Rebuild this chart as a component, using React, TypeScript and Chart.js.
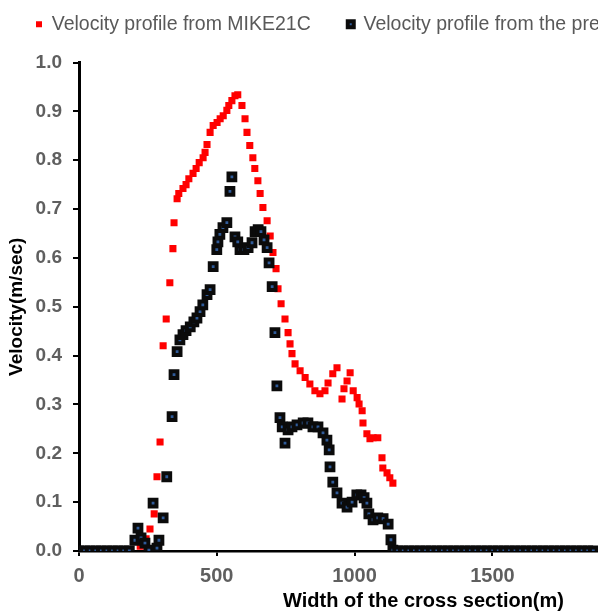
import React, { useEffect, useRef } from "react";
import { Chart, registerables } from "chart.js";

Chart.register(...registerables);

// ---- Data ----
const SERIES_NAMES = ["Velocity profile from MIKE21C", "Velocity profile from the present study"];

const MIKE_X = [219, 240, 254, 269, 279, 290, 301, 312, 325, 336, 340, 351, 357, 372, 383, 393, 408, 419, 430, 444,
  451, 458, 469, 480, 494, 505, 516, 529, 536, 547, 558, 568, 583, 594, 601, 611, 622, 629, 640, 648,
  658, 673, 684, 694, 705, 712, 723, 737, 748, 755, 762, 773, 791, 809, 826, 844, 862, 880, 891, 908,
  923, 941, 948, 959, 970, 981, 995, 1002, 1013, 1016, 1030, 1041, 1052, 1069, 1084, 1087, 1102, 1112, 1123];
const MIKE_Y = [0.010, 0.025, 0.045, 0.076, 0.152, 0.223, 0.420, 0.475, 0.549, 0.619, 0.672, 0.721, 0.732, 0.742, 0.750, 0.762, 0.773, 0.783, 0.795, 0.805,
  0.816, 0.832, 0.857, 0.871, 0.877, 0.885, 0.891, 0.902, 0.912, 0.922, 0.932, 0.934, 0.912, 0.885, 0.857, 0.830, 0.805, 0.783, 0.758, 0.732,
  0.703, 0.676, 0.645, 0.611, 0.578, 0.537, 0.506, 0.475, 0.447, 0.424, 0.404, 0.383, 0.369, 0.355, 0.342, 0.328, 0.322, 0.328, 0.344, 0.363,
  0.375, 0.311, 0.332, 0.348, 0.365, 0.328, 0.314, 0.301, 0.287, 0.262, 0.240, 0.230, 0.232, 0.232, 0.191, 0.170, 0.160, 0.150, 0.139];

const STUDY_X = [0, 20, 40, 60, 80, 100, 120, 140, 160, 180,
  200, 211, 222, 236, 250, 265, 279, 286, 301, 314, 333, 340, 351, 361, 372, 383, 398, 411, 422, 433, 443, 458, 469,
  480, 493, 497, 504, 515, 529, 540, 547, 558, 568, 576, 590, 605, 619, 630, 641, 651, 662, 673, 680, 691,
  701, 708, 719, 727, 737, 748, 762, 780, 802, 819, 837, 855, 873, 887, 895, 898, 908, 923, 941, 959,
  977, 994, 1009, 1020, 1030, 1037, 1052, 1069, 1088, 1106, 1116, 1123,
  1140, 1160, 1180, 1200, 1220, 1240, 1260, 1280, 1300, 1320, 1340, 1360, 1380, 1400, 1420, 1440, 1460, 1480,
  1500, 1520, 1540, 1560, 1580, 1600, 1620, 1640, 1660, 1680, 1700, 1720, 1740, 1760, 1780, 1800, 1820, 1840];
const STUDY_Y = [0, 0, 0, 0, 0, 0, 0, 0, 0, 0,
  0.022, 0.047, 0.027, 0.016, 0.002, 0.098, 0.006, 0.022, 0.068, 0.152, 0.275, 0.361, 0.408, 0.432, 0.443, 0.451, 0.459, 0.469, 0.477, 0.490, 0.504, 0.525, 0.535,
  0.582, 0.617, 0.633, 0.648, 0.662, 0.672, 0.736, 0.766, 0.643, 0.633, 0.617, 0.617, 0.621, 0.631, 0.654, 0.658, 0.654, 0.637, 0.621, 0.590, 0.541,
  0.447, 0.338, 0.273, 0.254, 0.221, 0.248, 0.254, 0.258, 0.262, 0.262, 0.254, 0.254, 0.242, 0.227, 0.207, 0.172, 0.141, 0.119, 0.098, 0.090,
  0.100, 0.115, 0.115, 0.109, 0.098, 0.076, 0.064, 0.068, 0.066, 0.055, 0.023, 0.002,
  0, 0, 0, 0, 0, 0, 0, 0, 0, 0, 0, 0, 0, 0, 0, 0, 0, 0,
  0, 0, 0, 0, 0, 0, 0, 0, 0, 0, 0, 0, 0, 0, 0, 0, 0, 0];

const X_TICK_LABELS = ["0", "500", "1000", "1500", "2000"];
const Y_TICK_LABELS = ["0.0", "0.1", "0.2", "0.3", "0.4", "0.5", "0.6", "0.7", "0.8", "0.9", "1.0"];
const X_TITLE = "Width of the cross section(m)";
const Y_TITLE = "Velocity(m/sec)";

const FONT = "'Liberation Sans', Arial, Helvetica, sans-serif";
const LEGEND_HEIGHT = 85;

const legendSpacer = {
  id: "legendSpacer",
  beforeUpdate(chart: any) {
    const legend = chart.legend;
    if (!legend || legend.__patched) return;
    const orig = legend.fit;
    legend.fit = function () {
      orig.call(this);
      this.height = LEGEND_HEIGHT;
    };
    legend.__patched = true;
  },
};

export default function App() {
  const ref = useRef<HTMLCanvasElement | null>(null);

  useEffect(() => {
    if (!ref.current) return;
    const toPts = (xs: number[], ys: number[]) => xs.map((x, i) => ({ x, y: ys[i] }));
    const chart = new Chart(ref.current, {
      type: "scatter",
      data: {
        datasets: [
          {
            label: SERIES_NAMES[0],
            data: toPts(MIKE_X, MIKE_Y),
            pointStyle: "rect",
            pointRadius: 5,
            backgroundColor: "#ff0000",
            borderColor: "#ff0000",
            borderWidth: 0,
            order: 1,
          },
          {
            label: SERIES_NAMES[1],
            data: toPts(STUDY_X, STUDY_Y),
            pointStyle: "rect",
            pointRadius: 4.8,
            backgroundColor: "#2f5b9a",
            borderColor: "#0b0b0b",
            borderWidth: 4,
            order: 0,
          },
        ],
      },
      options: {
        animation: false,
        responsive: false,
        events: [],
        layout: { padding: { left: -1, top: -22.5, right: 32, bottom: 0 } },
        plugins: {
          tooltip: { enabled: false },
          legend: {
            position: "top",
            align: "start",
            labels: {
              usePointStyle: true,
              boxWidth: 6,
              boxHeight: 6,
              padding: 37,
              color: "#595959",
              font: { family: FONT, size: 19.5 },
              sort: (a: any, b: any) => a.datasetIndex - b.datasetIndex,
            },
          },
        },
        scales: {
          x: {
            type: "linear",
            min: 0,
            max: 2465,
            bounds: "data",
            afterFit: (s: any) => {
              s.height = 65;
            },
            ticks: {
              stepSize: 500,
              maxRotation: 0,
              autoSkip: false,
              padding: 8,
              color: "#5f5f5f",
              font: { family: FONT, size: 20, weight: "bold" },
              callback: (_v: any, i: number) => X_TICK_LABELS[i] ?? "",
            },
            grid: { display: true, drawOnChartArea: false, drawTicks: true, tickLength: 5, color: "#000", lineWidth: 2 },
            border: { display: true, color: "#000", width: 2.5 },
            title: {
              display: true,
              text: X_TITLE,
              color: "#000",
              font: { family: FONT, size: 20, weight: "bold" },
              padding: { top: 4, bottom: 2.5 },
            },
          },
          y: {
            type: "linear",
            min: 0,
            max: 1,
            afterFit: (s: any) => {
              s.width = 80;
            },
            ticks: {
              stepSize: 0.1,
              padding: 11,
              color: "#5f5f5f",
              font: { family: FONT, size: 19, weight: "bold" },
              callback: (_v: any, i: number) => Y_TICK_LABELS[i] ?? "",
            },
            grid: { display: true, drawOnChartArea: false, drawTicks: true, tickLength: 6, color: "#000", lineWidth: 2 },
            border: { display: true, color: "#000", width: 3 },
            title: {
              display: true,
              text: Y_TITLE,
              color: "#000",
              font: { family: FONT, size: 19, weight: "bold" },
              padding: { top: 6.6, bottom: 0 },
            },
          },
        },
      },
      plugins: [legendSpacer],
    });
    return () => chart.destroy();
  }, []);

  return (
    <div style={{ position: "fixed", left: 0, top: 0, width: 598, height: 616, overflow: "hidden", background: "#fff" }}>
      <canvas ref={ref} width={800} height={616} style={{ display: "block" }} />
    </div>
  );
}
